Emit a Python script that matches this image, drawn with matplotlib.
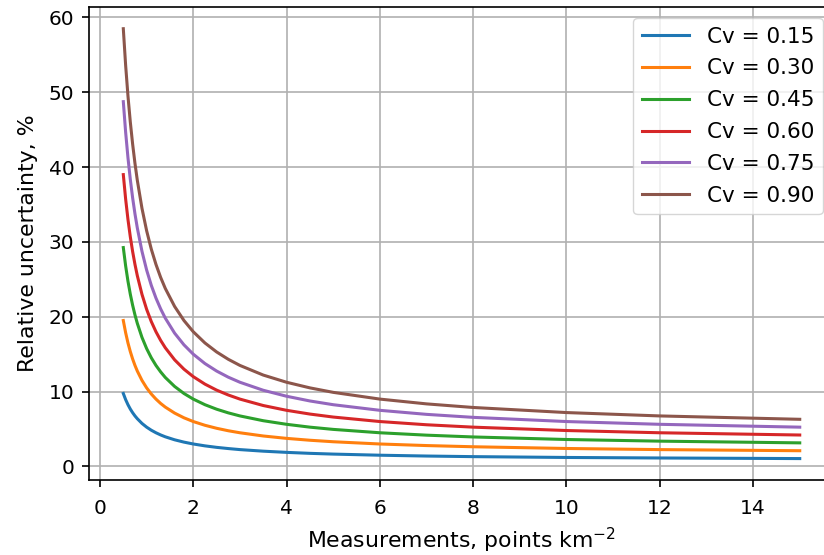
import matplotlib
matplotlib.use("Agg")
import matplotlib.pyplot as plt

# density of measurements, points per km^2
density = [0.5, 0.55, 0.6, 0.65, 0.7, 0.75, 0.8, 0.9, 1.0, 1.1, 1.2, 1.3, 1.4,
           1.6, 1.8, 2.0, 2.25, 2.5, 2.75, 3.0, 3.5, 4.0, 4.5, 5.0, 6.0, 7.0,
           8.0, 10.0, 12.0, 15.0]

# relative uncertainty (%)
u_015 = [9.75, 8.93, 8.25, 7.67, 7.18, 6.75, 6.38, 5.75, 5.25, 4.84, 4.5, 4.21,
         3.96, 3.56, 3.25, 3.0, 2.75, 2.55, 2.39, 2.25, 2.04, 1.88, 1.75, 1.65,
         1.5, 1.39, 1.31, 1.2, 1.13, 1.05]
u_030 = [19.5, 17.87, 16.5, 15.35, 14.36, 13.5, 12.75, 11.5, 10.5, 9.68, 9.0,
         8.42, 7.93, 7.13, 6.5, 6.0, 5.5, 5.1, 4.77, 4.5, 4.07, 3.75, 3.5, 3.3,
         3.0, 2.79, 2.63, 2.4, 2.25, 2.1]
u_045 = [29.25, 26.8, 24.75, 23.02, 21.54, 20.25, 19.13, 17.25, 15.75, 14.52,
         13.5, 12.64, 11.89, 10.69, 9.75, 9.0, 8.25, 7.65, 7.16, 6.75, 6.11,
         5.63, 5.25, 4.95, 4.5, 4.18, 3.94, 3.6, 3.38, 3.15]
u_060 = [39.0, 35.73, 33.0, 30.69, 28.71, 27.0, 25.5, 23.0, 21.0, 19.36, 18.0,
         16.85, 15.86, 14.25, 13.0, 12.0, 11.0, 10.2, 9.55, 9.0, 8.14, 7.5, 7.0,
         6.6, 6.0, 5.57, 5.25, 4.8, 4.5, 4.2]
u_075 = [48.75, 44.66, 41.25, 38.36, 35.89, 33.75, 31.88, 28.75, 26.25, 24.2,
         22.5, 21.06, 19.82, 17.81, 16.25, 15.0, 13.75, 12.75, 11.93, 11.25,
         10.18, 9.38, 8.75, 8.25, 7.5, 6.96, 6.56, 6.0, 5.63, 5.25]
u_090 = [58.5, 53.6, 49.5, 46.04, 43.07, 40.5, 38.25, 34.5, 31.5, 29.04, 27.0,
         25.27, 23.79, 21.38, 19.5, 18.0, 16.5, 15.3, 14.32, 13.5, 12.21, 11.25,
         10.5, 9.9, 9.0, 8.36, 7.88, 7.2, 6.75, 6.3]

labels = ["Cv = 0.15", "Cv = 0.30", "Cv = 0.45", "Cv = 0.60", "Cv = 0.75", "Cv = 0.90"]
series = [u_015, u_030, u_045, u_060, u_075, u_090]

plt.rcParams["font.size"] = 14.5

fig = plt.figure(figsize=(8.24, 5.55), dpi=100)
# the original picture is cropped on the right, so the axes run past the edge
ax = fig.add_axes([0.1086, 0.135, 0.903, 0.852])

for vals, lab in zip(series, labels):
    ax.plot(density, vals, label=lab, linewidth=2.2)

ax.set_xlabel("Measurements, points km$^{-2}$", fontsize=15.8, labelpad=6)
ax.set_ylabel("Relative uncertainty, %", fontsize=15.8, labelpad=8)
ax.set_xticks([0, 2, 4, 6, 8, 10, 12, 14])
ax.set_yticks([0, 10, 20, 30, 40, 50, 60])
ax.grid(linewidth=1.2)
ax.tick_params(width=1.2, length=5.3)
ax.tick_params(axis="x", pad=8)
ax.tick_params(axis="y", pad=5.5)
for sp in ax.spines.values():
    sp.set_linewidth(1.2)
ax.legend(loc="upper right", fontsize=15.5, handlelength=2.2, labelspacing=0.55)

fig.savefig("out.png", dpi=100)
